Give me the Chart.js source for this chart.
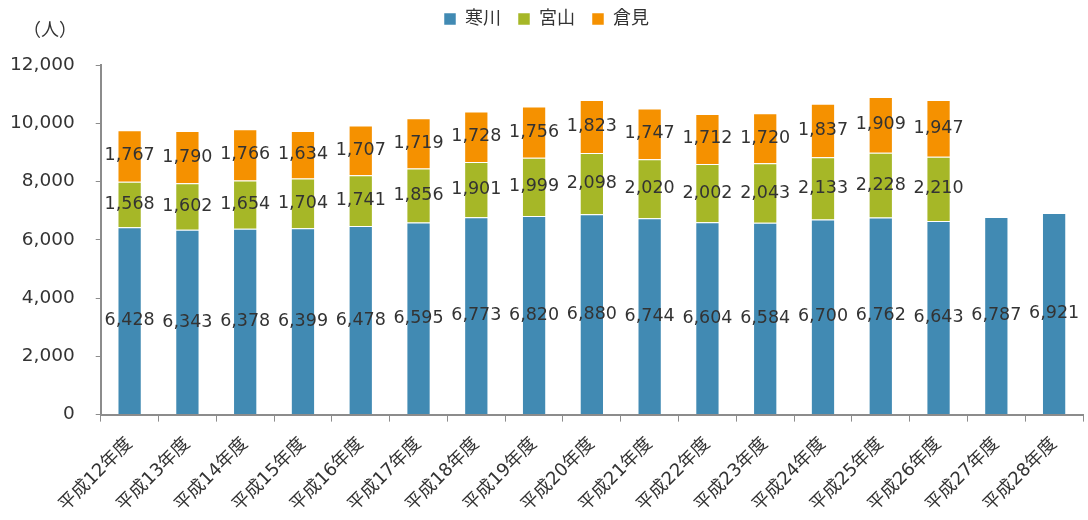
<!DOCTYPE html>
<html>
<head>
<meta charset="utf-8">
<script src="https://cdn.jsdelivr.net/npm/chart.js@4"></script>
<style>
  html, body { margin: 0; padding: 0; background: #fff; }
  #wrap { width: 1088px; height: 520px; }
</style>
</head>
<body>
<div id="wrap"><canvas id="chart" width="1088" height="520"></canvas></div>
<script>
const years = ['平成12年度','平成13年度','平成14年度','平成15年度','平成16年度','平成17年度','平成18年度','平成19年度','平成20年度','平成21年度','平成22年度','平成23年度','平成24年度','平成25年度','平成26年度','平成27年度','平成28年度'];
const samukawa = [6428,6343,6378,6399,6478,6595,6773,6820,6880,6744,6604,6584,6700,6762,6643,6787,6921];
const miyayama = [1568,1602,1654,1704,1741,1856,1901,1999,2098,2020,2002,2043,2133,2228,2210,null,null];
const kurami = [1767,1790,1766,1634,1707,1719,1728,1756,1823,1747,1712,1720,1837,1909,1947,null,null];
const yTicks = [0,2000,4000,6000,8000,10000,12000];

const FONT = "'DejaVu Sans', 'Noto Sans CJK JP', sans-serif";
const TEXT = '#333333';
const AXIS = '#8c8c8c';

// 凡例の下に余白を足す
const legendGap = {
    id: 'legendGap',
    beforeInit(chart) {
        const fit = chart.legend.fit;
        chart.legend.fit = function () {
            fit.call(this);
            this.height += 27;
        };
    }
};

// 各セグメントの中央に値を描く
const valueLabels = {
    id: 'valueLabels',
    afterDatasetsDraw(chart) {
        const ctx = chart.ctx;
        ctx.save();
        ctx.font = '17.5px ' + FONT;
        ctx.fillStyle = TEXT;
        ctx.textAlign = 'center';
        ctx.textBaseline = 'middle';
        chart.data.datasets.forEach((ds, i) => {
            const meta = chart.getDatasetMeta(i);
            meta.data.forEach((bar, j) => {
                const v = ds.data[j];
                if (v == null) return;
                const mid = (bar.y + bar.base) / 2;
                ctx.fillText(v.toLocaleString('en-US'), bar.x, mid);
            });
        });
        ctx.restore();
    }
};

// 単位「（人）」
const unitLabel = {
    id: 'unitLabel',
    afterDraw(chart) {
        const ctx = chart.ctx;
        ctx.save();
        ctx.font = '18px ' + FONT;
        ctx.fillStyle = TEXT;
        ctx.textAlign = 'center';
        ctx.textBaseline = 'middle';
        ctx.fillText('（人）', 50, 31);
        ctx.restore();
    }
};

new Chart(document.getElementById('chart'), {
    type: 'bar',
    data: {
        labels: years,
        datasets: [
            { label: '寒川', data: samukawa, backgroundColor: '#418ab3', borderColor: 'rgba(255,255,255,0.5)', borderWidth: 1 },
            { label: '宮山', data: miyayama, backgroundColor: '#a6b727', borderColor: 'rgba(255,255,255,0.5)', borderWidth: 1 },
            { label: '倉見', data: kurami, backgroundColor: '#f59100', borderColor: 'rgba(255,255,255,0.5)', borderWidth: 1 }
        ]
    },
    options: {
        responsive: false,
        animation: false,
        layout: { padding: { left: 10, right: 5, top: -7, bottom: -8 } },
        datasets: { bar: { barPercentage: 0.42, categoryPercentage: 1.0 } },
        plugins: {
            legend: {
                position: 'top',
                labels: { font: { size: 18, family: FONT }, color: TEXT, boxWidth: 12, boxHeight: 12, padding: 17 }
            },
            tooltip: { enabled: false }
        },
        scales: {
            x: {
                stacked: true,
                grid: { display: true, drawOnChartArea: false, color: AXIS, tickLength: 7 },
                border: { color: AXIS, width: 2 },
                ticks: { font: { size: 18, family: FONT }, color: TEXT, maxRotation: 45, minRotation: 45, padding: 12 },
                afterFit: s => { s.paddingLeft = 0; s.paddingRight = 0; }
            },
            y: {
                stacked: true,
                min: 0,
                max: 12000,
                afterBuildTicks: axis => { axis.ticks = yTicks.map(v => ({ value: v })); },
                grid: { display: true, drawOnChartArea: false, color: AXIS, tickLength: 5 },
                border: { color: AXIS, width: 2 },
                ticks: {
                    font: { size: 18.5, family: FONT }, color: TEXT, padding: 21,
                    callback: v => v.toLocaleString('en-US')
                },
                afterFit: s => { s.width -= 21; }
            }
        }
    },
    plugins: [legendGap, valueLabels, unitLabel]
});
</script>
</body>
</html>
